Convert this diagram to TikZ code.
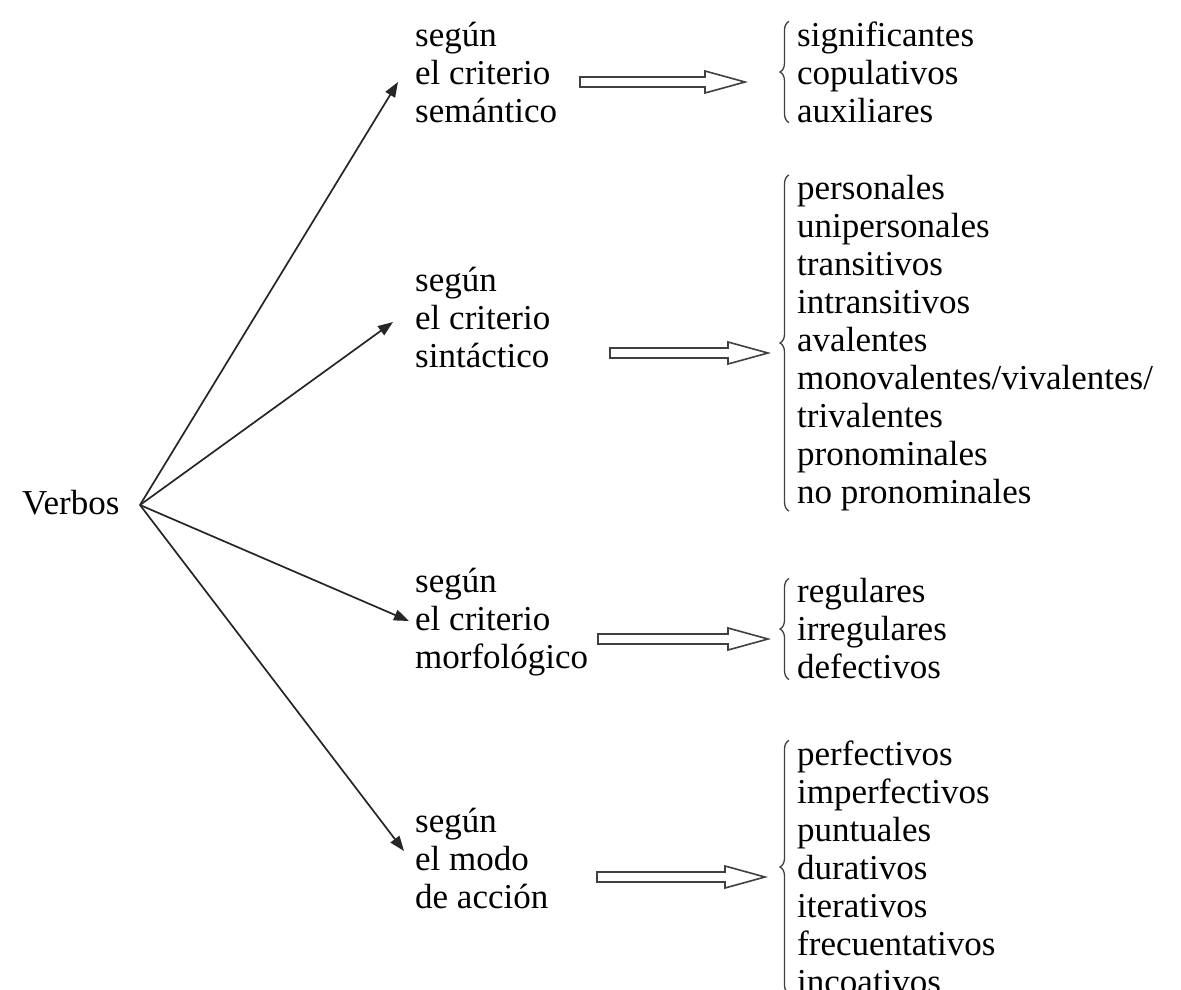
\documentclass[tikz,border=0pt]{standalone}
\usepackage{fontspec}
\setmainfont{Liberation Serif}
\usetikzlibrary{arrows.meta,decorations.pathreplacing}
\begin{document}
\begin{tikzpicture}[x=1pt,y=-1pt,
  lbl/.style={font=\fontsize{35}{38}\selectfont, align=left, anchor=west, inner sep=0pt},
  thinarrow/.style={-{Triangle[length=15pt,width=11pt]}, line width=1.7pt, draw=black!85},
  hollow/.style={draw=black!75, line width=1.6pt, fill=white, line join=miter},
  bracestyle/.style={decorate, decoration={brace, amplitude=9pt, aspect=0.5}, line width=1.3pt, draw=black!75}]
\useasboundingbox (0,0) rectangle (1181,989);
\fill[white] (0,0) rectangle (1181,989);

% root
\node[lbl] (verbos) at (22,503) {Verbos};
\coordinate (hub) at (140,505);

% criteria
\node[lbl] (c1) at (415,72) {según\\el criterio\\semántico};
\node[lbl] (c2) at (415,317) {según\\el criterio\\sintáctico};
\node[lbl] (c3) at (415,622) {según\\el criterio\\morfológico};
\node[lbl] (c4) at (415,858) {según\\el modo\\de acción};

\coordinate (t1) at (398,82);
\coordinate (t2) at (393,322);
\coordinate (t3) at (409,621);
\coordinate (t4) at (404,851);
\draw[thinarrow] (hub) -- (t1);
\draw[thinarrow] (hub) -- (t2);
\draw[thinarrow] (hub) -- (t3);
\draw[thinarrow] (hub) -- (t4);

% hollow arrows
\coordinate (h1) at (580,72);
\coordinate (h2) at (610,343);
\coordinate (h3) at (598,629);
\coordinate (h4) at (597,867);
\draw[hollow] ([yshift=-5pt]h1) -- ++(125,0) -- ++(0,-6) -- ++(40,11) -- ++(-40,11) -- ++(0,-6) -- ++(-125,0) -- cycle;
\draw[hollow] ([yshift=-5pt]h2) -- ++(118,0) -- ++(0,-6) -- ++(40,11) -- ++(-40,11) -- ++(0,-6) -- ++(-118,0) -- cycle;
\draw[hollow] ([yshift=-5pt]h3) -- ++(130,0) -- ++(0,-6) -- ++(40,11) -- ++(-40,11) -- ++(0,-6) -- ++(-130,0) -- cycle;
\draw[hollow] ([yshift=-5pt]h4) -- ++(128,0) -- ++(0,-6) -- ++(40,11) -- ++(-40,11) -- ++(0,-6) -- ++(-128,0) -- cycle;

% lists
\node[lbl] (l1) at (797,72) {significantes\\copulativos\\auxiliares};
\node[lbl] (l2) at (797,343) {personales\\unipersonales\\transitivos\\intransitivos\\avalentes\\monovalentes/vivalentes/\\trivalentes\\pronominales\\no pronominales};
\node[lbl] (l3) at (797,629) {regulares\\irregulares\\defectivos};
\node[lbl] (l4) at (797,867) {perfectivos\\imperfectivos\\puntuales\\durativos\\iterativos\\frecuentativos\\incoativos};

% braces
\draw[bracestyle] ([xshift=-8pt]l1.south west) -- ([xshift=-8pt]l1.north west);
\draw[bracestyle] ([xshift=-8pt]l2.south west) -- ([xshift=-8pt]l2.north west);
\draw[bracestyle] ([xshift=-8pt]l3.south west) -- ([xshift=-8pt]l3.north west);
\draw[bracestyle] ([xshift=-8pt]l4.south west) -- ([xshift=-8pt]l4.north west);
\end{tikzpicture}
\end{document}
